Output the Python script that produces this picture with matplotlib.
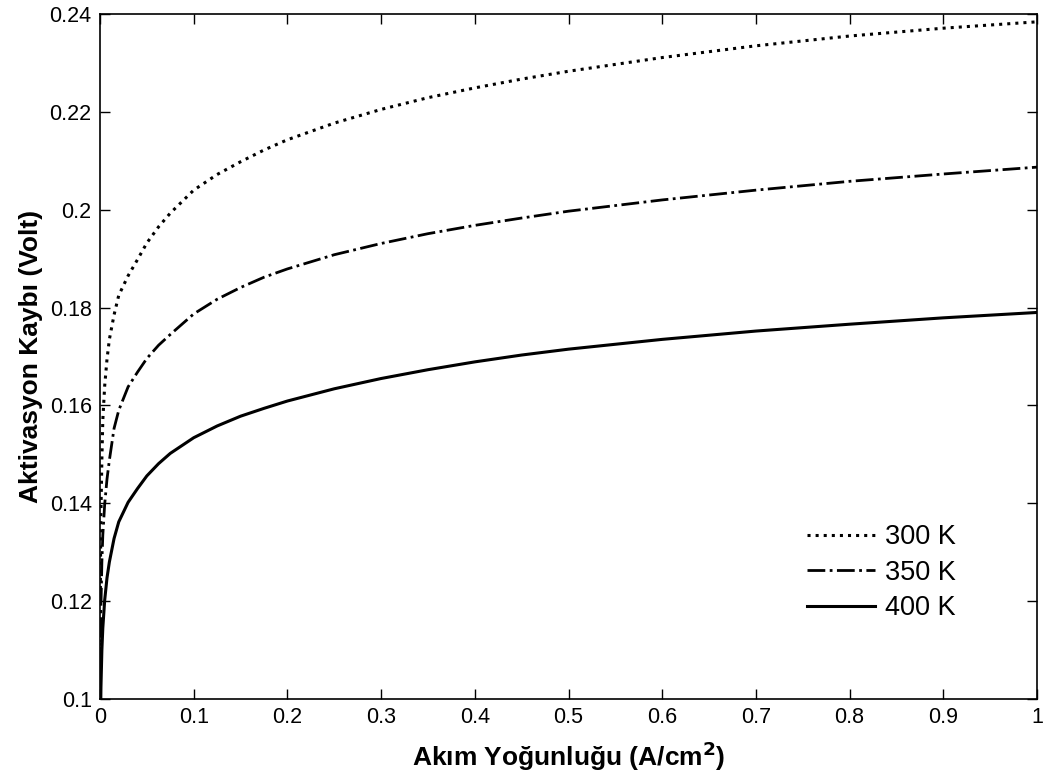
import matplotlib
matplotlib.use("Agg")
import matplotlib.pyplot as plt

plt.rcParams['font.family'] = ['Liberation Sans', 'DejaVu Sans']

# Current density (A/cm^2)
current_300 = [0.00005, 0.0002, 0.0005, 0.001, 0.002, 0.003, 0.005, 0.0075, 0.01,
               0.015, 0.02, 0.03, 0.04, 0.05, 0.0625, 0.075, 0.1, 0.125, 0.15,
               0.175, 0.2, 0.25, 0.3, 0.35, 0.4, 0.45, 0.5, 0.6, 0.7, 0.8, 0.9, 1.0]
loss_300 = [0.096, 0.113, 0.127, 0.138, 0.149, 0.157, 0.164, 0.1695, 0.1735,
            0.1785, 0.1825, 0.1865, 0.1898, 0.1932, 0.1965, 0.1993, 0.2040, 0.2072,
            0.2098, 0.2122, 0.2143, 0.2177, 0.2205, 0.2229, 0.2249, 0.2267, 0.2283,
            0.2311, 0.2335, 0.2355, 0.2371, 0.2384]

current_350 = [0.0001, 0.0002, 0.0005, 0.001, 0.002, 0.003, 0.005, 0.0075, 0.01,
               0.015, 0.02, 0.03, 0.04, 0.05, 0.0625, 0.075, 0.1, 0.125, 0.15,
               0.175, 0.2, 0.25, 0.3, 0.35, 0.4, 0.45, 0.5, 0.6, 0.7, 0.8, 0.9, 1.0]
loss_350 = [0.089, 0.098, 0.110, 0.1188, 0.128, 0.1335, 0.1398, 0.145, 0.1488,
            0.1553, 0.159, 0.1638, 0.1668, 0.1696, 0.1723, 0.1745, 0.1787, 0.1817,
            0.1841, 0.1862, 0.1879, 0.1908, 0.1931, 0.1951, 0.1968, 0.1983, 0.1997,
            0.2020, 0.2040, 0.2058, 0.2073, 0.2087]

current_400 = [0.0005, 0.001, 0.002, 0.003, 0.005, 0.0075, 0.01,
               0.015, 0.02, 0.03, 0.04, 0.05, 0.0625, 0.075, 0.1, 0.125, 0.15,
               0.175, 0.2, 0.25, 0.3, 0.35, 0.4, 0.45, 0.5, 0.6, 0.7, 0.8, 0.9, 1.0]
loss_400 = [0.0946, 0.1023, 0.110, 0.1145, 0.1202, 0.1248, 0.128,
            0.1328, 0.1362, 0.1402, 0.143, 0.1456, 0.1481, 0.1502, 0.1534, 0.1558,
            0.1578, 0.1594, 0.1609, 0.1634, 0.1655, 0.1673, 0.1689, 0.1703, 0.1715,
            0.1735, 0.1752, 0.1766, 0.1779, 0.1790]

series_labels = ['300 K', '350 K', '400 K']
x_ticks = [0, 0.1, 0.2, 0.3, 0.4, 0.5, 0.6, 0.7, 0.8, 0.9, 1]
x_tick_labels = ['0', '0.1', '0.2', '0.3', '0.4', '0.5', '0.6', '0.7', '0.8', '0.9', '1']
y_ticks = [0.1, 0.12, 0.14, 0.16, 0.18, 0.2, 0.22, 0.24]
y_tick_labels = ['0.1', '0.12', '0.14', '0.16', '0.18', '0.2', '0.22', '0.24']

fig = plt.figure(figsize=(10.49, 7.78), dpi=100)
ax = fig.add_axes([100 / 1049, 1 - 699 / 778, 937 / 1049, 685 / 778])

ax.plot(current_300, loss_300, color='black', linestyle=':', linewidth=2.2,
        label=series_labels[0])
ax.plot(current_350, loss_350, color='black', linestyle='-.', linewidth=2.0,
        label=series_labels[1])
ax.plot(current_400, loss_400, color='black', linestyle='-', linewidth=2.2,
        label=series_labels[2])

ax.set_xlim(0, 1)
ax.set_ylim(0.1, 0.24)
ax.set_xticks(x_ticks)
ax.set_xticklabels(x_tick_labels)
ax.set_yticks(y_ticks)
ax.set_yticklabels(y_tick_labels)
ax.tick_params(direction='in', length=7, width=1.0, top=True, right=True,
               labelsize=15.5, pad=6, colors='black')
for spine in ax.spines.values():
    spine.set_linewidth(1.2)

ax.set_xlabel('Akım Yoğunluğu (A/cm$^\\mathbf{2}$)', fontsize=19,
              fontweight='bold', labelpad=8)
ax.set_ylabel('Aktivasyon Kaybı (Volt)', fontsize=19, fontweight='bold',
              labelpad=5)

leg = ax.legend(loc='upper left', bbox_to_anchor=(0.74, 0.275), frameon=False,
                fontsize=19.5, handlelength=2.5, handletextpad=0.4,
                labelspacing=0.35, borderpad=0.0)

fig.savefig('out.png', dpi=100)
